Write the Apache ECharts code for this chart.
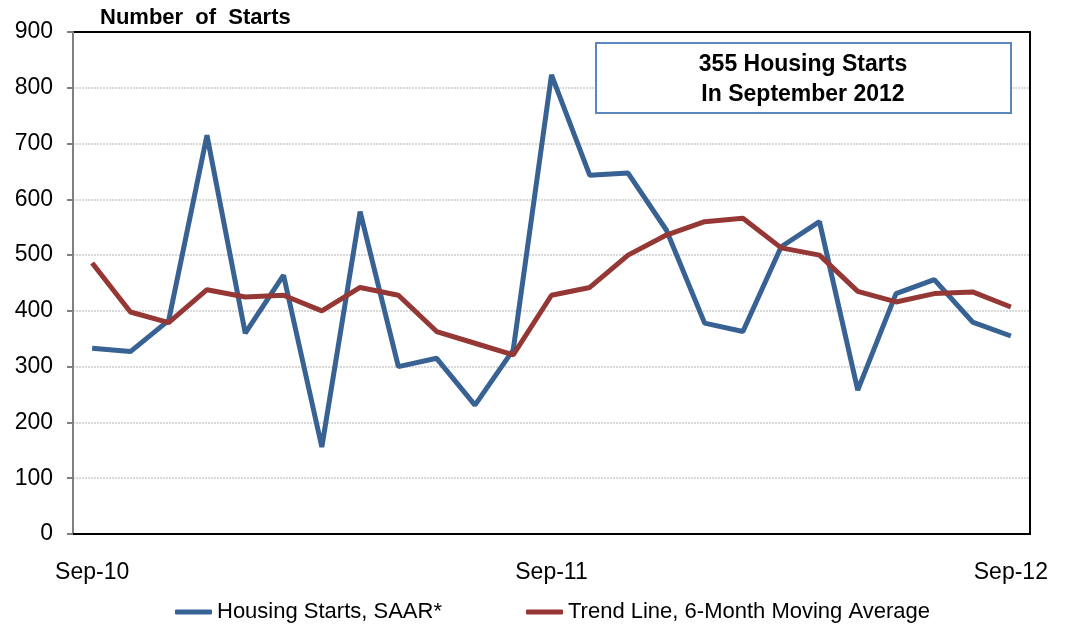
<!DOCTYPE html>
<html>
<head>
<meta charset="utf-8">
<script src="https://cdn.jsdelivr.net/npm/echarts@6/dist/echarts.min.js"></script>
<style>
  html, body { margin: 0; padding: 0; background: #fff; }
  #chart { width: 1065px; height: 630px; }
</style>
</head>
<body>
<div id="chart"></div>
<script>
// months Sep-10 .. Sep-12
const months = ['Sep-10', 'Oct-10', 'Nov-10', 'Dec-10', 'Jan-11', 'Feb-11', 'Mar-11', 'Apr-11',
  'May-11', 'Jun-11', 'Jul-11', 'Aug-11', 'Sep-11', 'Oct-11', 'Nov-11', 'Dec-11', 'Jan-12',
  'Feb-12', 'Mar-12', 'Apr-12', 'May-12', 'Jun-12', 'Jul-12', 'Aug-12', 'Sep-12'];

const housingStarts = [333, 327, 383, 715, 360, 464, 156, 578, 300, 315, 231, 330, 823,
  643, 647, 545, 378, 363, 515, 560, 258, 431, 456, 380, 355];

const trendLine = [486, 398, 379, 438, 425, 428, 400, 442, 428, 363, 342, 321, 428,
  442, 500, 536, 560, 566, 513, 500, 435, 416, 431, 434, 407];

const yTicks = { min: 0, max: 900, interval: 100 };

const chart = echarts.init(document.getElementById('chart'));
const font = '"Liberation Sans", Arial, sans-serif';

chart.setOption({
  animation: false,
  textStyle: { fontFamily: font },
  title: {
    text: 'Number  of  Starts',
    left: 95, top: 2,
    textStyle: { fontSize: 22, fontWeight: 'bold', color: '#000', fontFamily: font }
  },
  grid: {
    left: 73, right: 35, top: 32, bottom: 96,
    show: true, borderColor: '#000', borderWidth: 2
  },
  legend: {
    bottom: 2, left: 170,
    itemWidth: 37, itemHeight: 5, itemGap: 84,
    icon: 'roundRect',
    textStyle: { fontSize: 22, color: '#000', fontFamily: font },
    data: ['Housing Starts, SAAR*', 'Trend Line, 6-Month Moving Average']
  },
  xAxis: {
    type: 'category',
    data: months,
    boundaryGap: true,
    axisLine: { lineStyle: { color: '#000', width: 2 } },
    axisTick: { interval: 11, length: 6, lineStyle: { color: '#000', width: 2 } },
    axisLabel: { interval: 11, fontSize: 23, color: '#000', margin: 27 },
    splitLine: { show: false }
  },
  yAxis: {
    type: 'value',
    min: yTicks.min, max: yTicks.max, interval: yTicks.interval,
    axisLine: { show: true, lineStyle: { color: '#808080', width: 2 } },
    axisTick: { show: true, length: 6, lineStyle: { color: '#808080', width: 2 } },
    axisLabel: { fontSize: 23, color: '#000', margin: 20 },
    splitLine: {
      showMinLine: false, showMaxLine: false,
      lineStyle: { color: '#d9d9d9', width: 2, type: [2, 1] }
    }
  },
  series: [
    {
      name: 'Housing Starts, SAAR*',
      type: 'line',
      data: housingStarts,
      symbol: 'none',
      z: 3,
      color: '#386293',
      lineStyle: { width: 5, color: '#386293' }
    },
    {
      name: 'Trend Line, 6-Month Moving Average',
      type: 'line',
      data: trendLine,
      symbol: 'none',
      z: 4,
      color: '#953735',
      lineStyle: { width: 5, color: '#953735' }
    }
  ],
  graphic: [
    {
      type: 'rect',
      shape: { x: 596, y: 43, width: 415, height: 70 },
      style: { fill: '#fff', stroke: '#5b87c0', lineWidth: 2 },
      z: 10
    },
    {
      type: 'text',
      x: 803, y: 80,
      style: {
        text: '355 Housing Starts\nIn September 2012',
        align: 'center', verticalAlign: 'middle',
        font: 'bold 23px ' + font, fill: '#000', lineHeight: 30
      },
      z: 11
    }
  ]
});
</script>
</body>
</html>
